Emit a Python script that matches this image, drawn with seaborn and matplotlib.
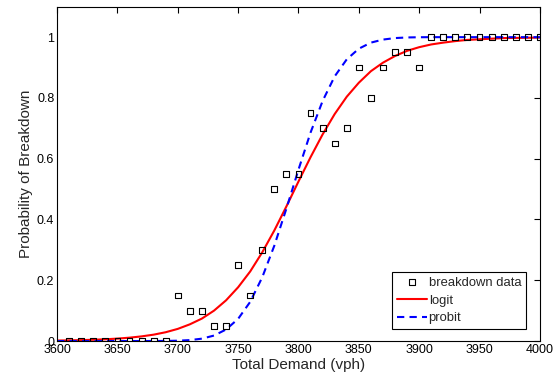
import numpy as np
import pandas as pd
import matplotlib
matplotlib.use("Agg")
import matplotlib.pyplot as plt
import seaborn as sns

# observed breakdown data
demand = [3610, 3620, 3630, 3640, 3650, 3660, 3670, 3680, 3690, 3700,
          3710, 3720, 3730, 3740, 3750, 3760, 3770, 3780, 3790, 3800,
          3810, 3820, 3830, 3840, 3850, 3860, 3870, 3880, 3890, 3900,
          3910, 3920, 3930, 3940, 3950, 3960, 3970, 3980, 3990, 4000]
breakdown = [0, 0, 0, 0, 0, 0, 0, 0, 0, 0.15,
             0.10, 0.10, 0.05, 0.05, 0.25, 0.15, 0.30, 0.50, 0.55, 0.55,
             0.75, 0.70, 0.65, 0.70, 0.90, 0.80, 0.90, 0.95, 0.95, 0.90,
             1, 1, 1, 1, 1, 1, 1, 1, 1, 1]

# fitted curves
curve_x = [3600, 3610, 3620, 3630, 3640, 3650, 3660, 3670, 3680, 3690,
           3700, 3710, 3720, 3730, 3740, 3750, 3760, 3770, 3780, 3790,
           3800, 3810, 3820, 3830, 3840, 3850, 3860, 3870, 3880, 3890,
           3900, 3910, 3920, 3930, 3940, 3950, 3960, 3970, 3980, 3990, 4000]
logit_y = [0.0016, 0.0022, 0.0030, 0.0042, 0.0058, 0.0080, 0.0111, 0.0153, 0.021, 0.029,
           0.040, 0.055, 0.074, 0.100, 0.134, 0.177, 0.229, 0.292, 0.364, 0.443,
           0.525, 0.605, 0.680, 0.747, 0.804, 0.850, 0.888, 0.916, 0.938, 0.955,
           0.967, 0.976, 0.982, 0.987, 0.991, 0.993, 0.995, 0.997, 0.9975, 0.998, 0.9987]
probit_y = [0, 0, 0, 0, 0, 0, 0, 0, 0.0001, 0.0003,
            0.0011, 0.0031, 0.0078, 0.018, 0.038, 0.073, 0.129, 0.210, 0.314, 0.436,
            0.564, 0.686, 0.790, 0.871, 0.927, 0.962, 0.982, 0.992, 0.997, 0.999,
            0.9997, 1, 1, 1, 1, 1, 1, 1, 1, 1, 1]

sns.set_style("white")
plt.rcParams['font.family'] = ['Liberation Sans', 'DejaVu Sans']

fig = plt.figure(figsize=(5.6, 3.76), dpi=100)
ax = fig.add_axes([0.102, 0.093, 0.862, 0.889])

sns.scatterplot(x=demand, y=breakdown, ax=ax, marker='s', s=18,
                facecolor='none', edgecolor='black', linewidth=0.8,
                label='breakdown data', zorder=3)
sns.lineplot(x=curve_x, y=logit_y, ax=ax, color='red', linewidth=1.5,
             label='logit')
sns.lineplot(x=curve_x, y=probit_y, ax=ax, color='blue', linewidth=1.5,
             linestyle=(0, (3.5, 2.5)), label='probit')

ax.set_xlim(3600, 4000)
ax.set_ylim(0, 1.1)
ax.set_xticks(np.arange(3600, 4001, 50))
ax.set_yticks([0, 0.2, 0.4, 0.6, 0.8, 1])
ax.set_yticklabels(['0', '0.2', '0.4', '0.6', '0.8', '1'])
ax.tick_params(direction='in', length=4, width=0.8, top=True, right=True,
               labelsize=9, pad=2, colors='black')
for sp in ax.spines.values():
    sp.set_color('black')
    sp.set_linewidth(0.8)

ax.set_xlabel('Total Demand (vph)', fontsize=11, labelpad=1.5)
ax.set_ylabel('Probability of Breakdown', fontsize=11, labelpad=3)

leg = ax.legend(loc='lower right', bbox_to_anchor=(0.971, 0.036),
                fontsize=9.4, frameon=True, fancybox=False,
                edgecolor='black', borderpad=0.35, handlelength=2.3,
                handletextpad=0.15, labelspacing=0.44, borderaxespad=0)
leg.get_frame().set_linewidth(0.8)
leg.get_frame().set_alpha(1)

fig.savefig("out.png", dpi=100)
